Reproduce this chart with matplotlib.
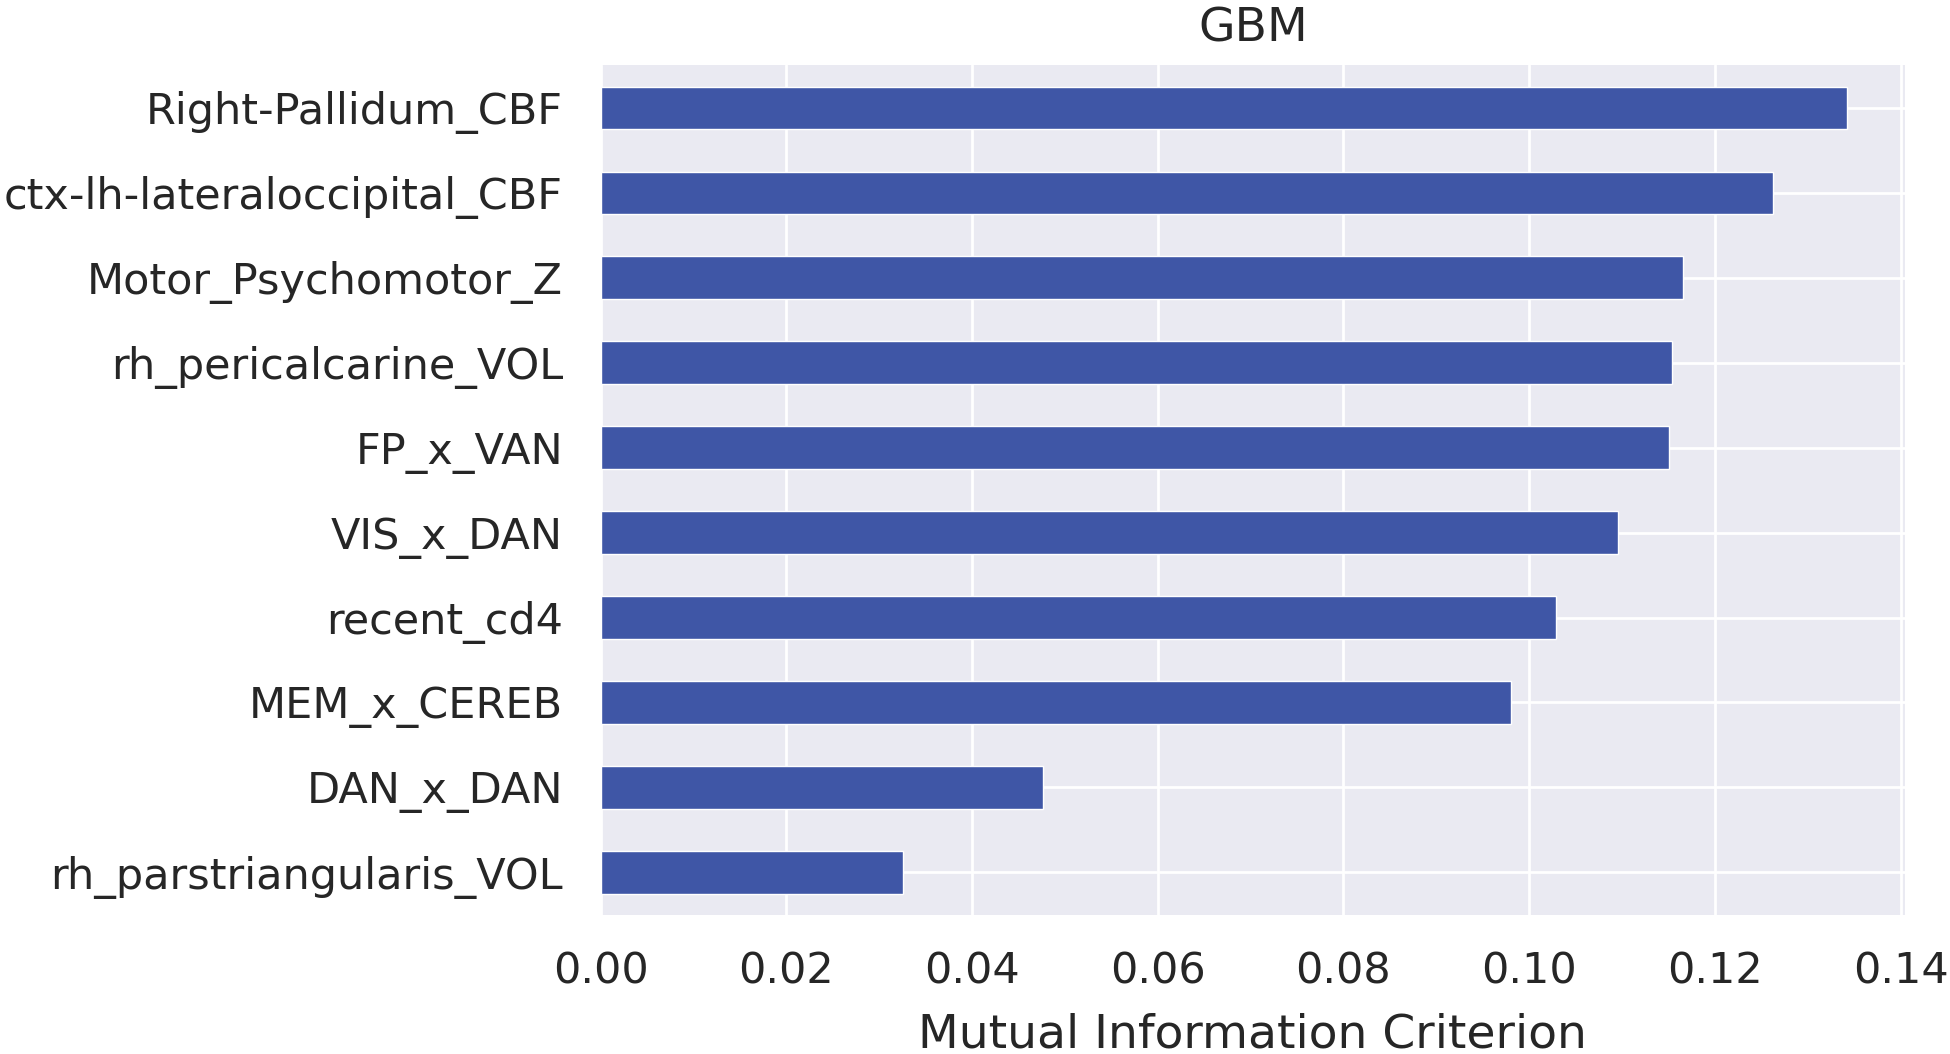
import matplotlib
matplotlib.use("Agg")
import matplotlib.pyplot as plt
import seaborn as sns

features = [
    "Right-Pallidum_CBF",
    "ctx-lh-lateraloccipital_CBF",
    "Motor_Psychomotor_Z",
    "rh_pericalcarine_VOL",
    "FP_x_VAN",
    "VIS_x_DAN",
    "recent_cd4",
    "MEM_x_CEREB",
    "DAN_x_DAN",
    "rh_parstriangularis_VOL",
]
mi_values = [0.1342, 0.1263, 0.1166, 0.1154, 0.1151, 0.1096, 0.1029, 0.0981, 0.0477, 0.0326]
xticks = [0.00, 0.02, 0.04, 0.06, 0.08, 0.10, 0.12, 0.14]

sns.set_style("darkgrid")
plt.rcParams["font.family"] = ["DejaVu Sans"]

fig = plt.figure(figsize=(19.5, 10.54), dpi=100)
ax = fig.add_axes([0.308, 0.132, 0.669, 0.806])

ypos = list(range(len(features)))
ax.barh(ypos, mi_values, height=0.5, color="#3f56a6", edgecolor="white", linewidth=1.0)
ax.set_yticks(ypos)
ax.set_yticklabels(features, fontsize=31, color="#262626")
ax.set_ylim(9.5, -0.5)
ax.set_xlim(0, 0.1405)
ax.set_xticks(xticks)
ax.set_xticklabels([f"{v:.2f}" for v in xticks], fontsize=31, color="#262626")
ax.set_xlabel("Mutual Information Criterion", fontsize=34, color="#262626", labelpad=14)
ax.set_title("GBM", fontsize=34, color="#262626", pad=17)
ax.tick_params(axis="y", length=0, pad=27)
ax.tick_params(axis="x", length=0, pad=26)
ax.grid(True, color="white", linewidth=2)
ax.set_axisbelow(True)
for s in ax.spines.values():
    s.set_visible(False)

fig.savefig("out.png", dpi=100)
